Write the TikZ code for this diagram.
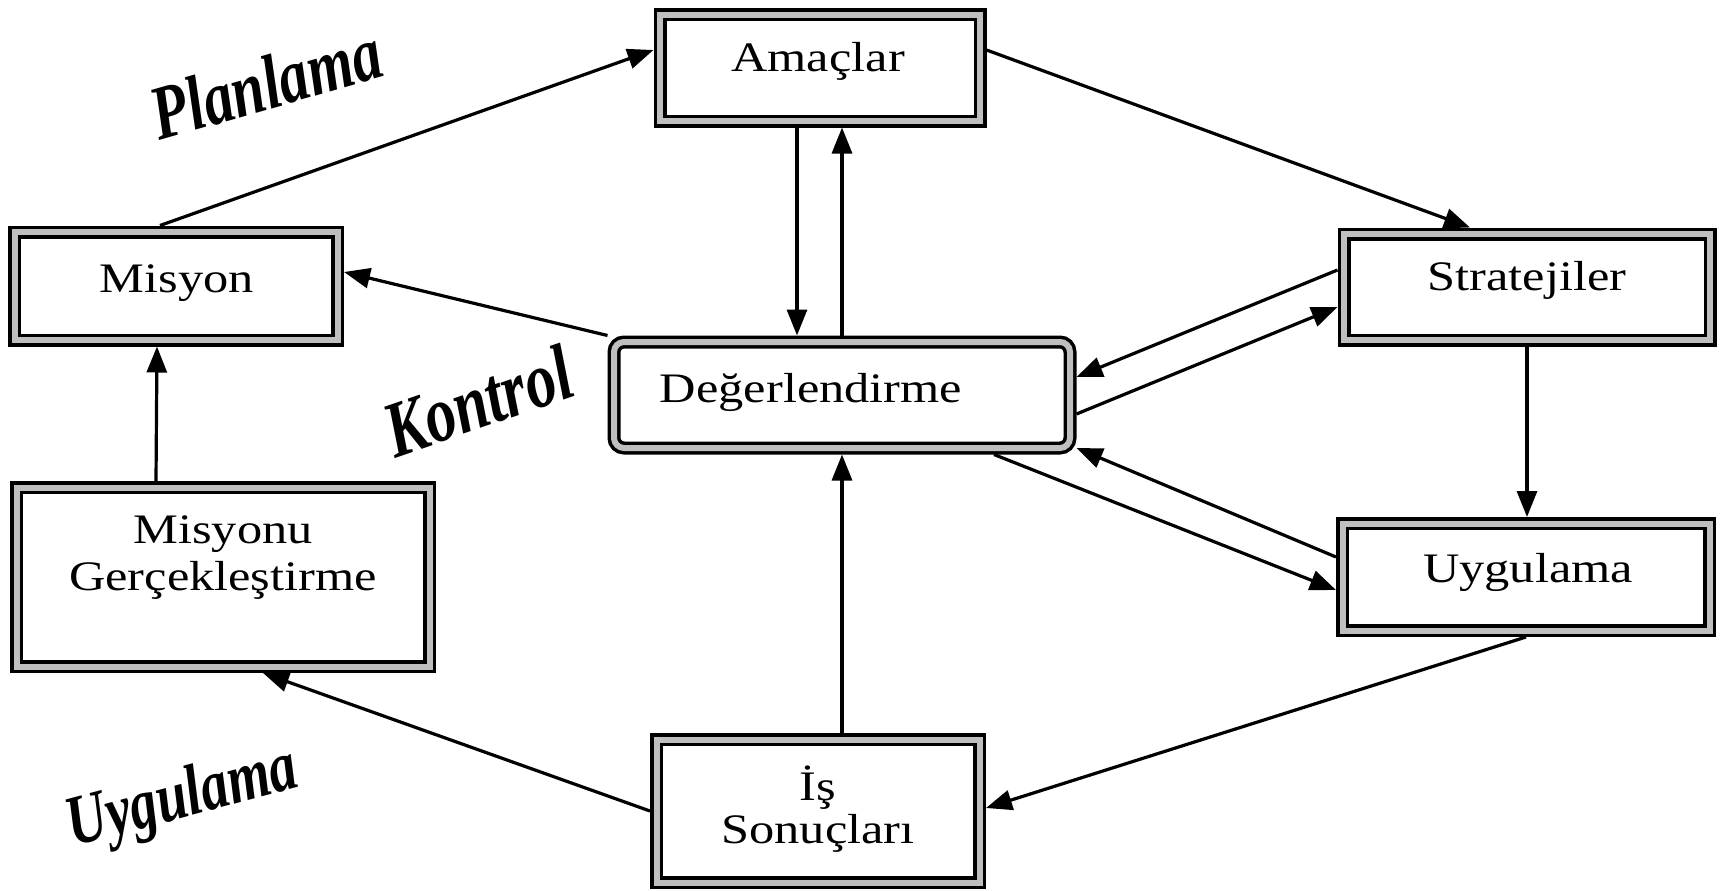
\documentclass[tikz,border=0pt]{standalone}
\usepackage{fontspec}
\usepackage{graphicx}
\setmainfont{Liberation Serif}
\usetikzlibrary{arrows.meta,calc}
\newcommand{\sx}[1]{\scalebox{1.2}[1]{#1}}
\newcommand{\sy}[1]{\scalebox{1}[1.3]{#1}}
\begin{document}
\begin{tikzpicture}[x=1pt,y=-1pt,
  box/.style={draw, line width=3.5pt, double=gray!50, double distance=6pt, outer sep=6.5pt, inner sep=0pt},
  txt/.style={inner sep=0pt, align=center, font=\fontsize{42}{46}\selectfont},
  conn/.style={line width=3.2pt, -{Triangle[length=26pt,width=20pt]}},
  side/.style={inner sep=0pt}
]
\useasboundingbox (0,0) rectangle (1725,891);
\fill[white] (0,0) rectangle (1725,891);

% boxes
\node[box, minimum width=320pt, minimum height=106pt] (amac) at (820,68) {};
\node[box, minimum width=323pt, minimum height=108pt] (mis) at (176,286) {};
\node[box, minimum width=366pt, minimum height=106pt] (strat) at (1527,287) {};
\node[box, rounded corners=10pt, minimum width=456pt, minimum height=106pt] (deg) at (842,395) {};
\node[box, minimum width=413pt, minimum height=179pt] (mg) at (223,577) {};
\node[box, minimum width=367pt, minimum height=107pt] (uyg) at (1526,577) {};
\node[box, minimum width=323pt, minimum height=143pt] (is) at (818,811) {};

% texts
\node[txt, anchor=base] (tamac) at (818,72) {\sx{Amaçlar}};
\node[txt, anchor=base] (tmis) at (177,292) {\sx{Misyon}};
\node[txt, anchor=base] (tstrat) at (1527,290) {\sx{Stratejiler}};
\node[txt, anchor=base] (tdeg) at (811,402) {\sx{Değerlendirme}};
\node[txt, anchor=base] (tuyg) at (1528,582) {\sx{Uygulama}};
\node[txt, anchor=base] (tmg1) at (223,543) {\sx{Misyonu}};
\node[txt, anchor=base] (tmg2) at (223,590) {\sx{Gerçekleştirme}};
\node[txt, anchor=base] (tis1) at (818,800) {\sx{İş}};
\node[txt, anchor=base] (tis2) at (818,843) {\sx{Sonuçları}};

% side labels
\node[side, rotate=16, font=\fontsize{59}{59}\selectfont\bfseries\itshape] (plan) at (266,83) {\sy{Planlama}};
\node[side, rotate=19, font=\fontsize{61}{61}\selectfont\bfseries\itshape] (kont) at (478,401) {\sy{Kontrol}};
\node[side, rotate=15, font=\fontsize{55}{55}\selectfont\bfseries\itshape] (uygl) at (183,800) {\sy{Uygulama}};

% connectors
\draw[conn] ($(mis.north)+(-16,0)$) -- ($(amac.west)+(0,-18)$);
\draw[conn] ($(amac.east)+(0,-18)$) -- ($(strat.north)+(-57,0)$);
\draw[conn] ($(amac.south)+(-23,0)$) -- ($(deg.north)+(-45,0)$);
\draw[conn] (deg.north) -- ($(amac.south)+(22,0)$);
\draw[conn] (deg.north west) -- ($(mis.east)+(0,-14)$);
\draw[conn] ($(strat.west)+(0,-17)$) -- ($(deg.east)+(0,-18)$);
\draw[conn] ($(deg.east)+(0,19)$) -- ($(strat.west)+(0,20)$);
\draw[conn] ($(deg.south)+(152,0)$) -- ($(uyg.west)+(0,13)$);
\draw[conn] ($(uyg.west)+(0,-20)$) -- ($(deg.east)+(0,53)$);
\draw[conn] (strat.south) -- (strat.south |- uyg.north);
\draw[conn] (uyg.south) -- ($(is.east)+(0,-3)$);
\draw[conn] ($(is.north)+(24,0)$) -- (deg.south);
\draw[conn] (is.west) -- ($(mg.south)+(40,0)$);
\draw[conn] ($(mg.north)+(-67,0)$) -- ($(mis.south)+(-19,0)$);
\end{tikzpicture}
\end{document}
